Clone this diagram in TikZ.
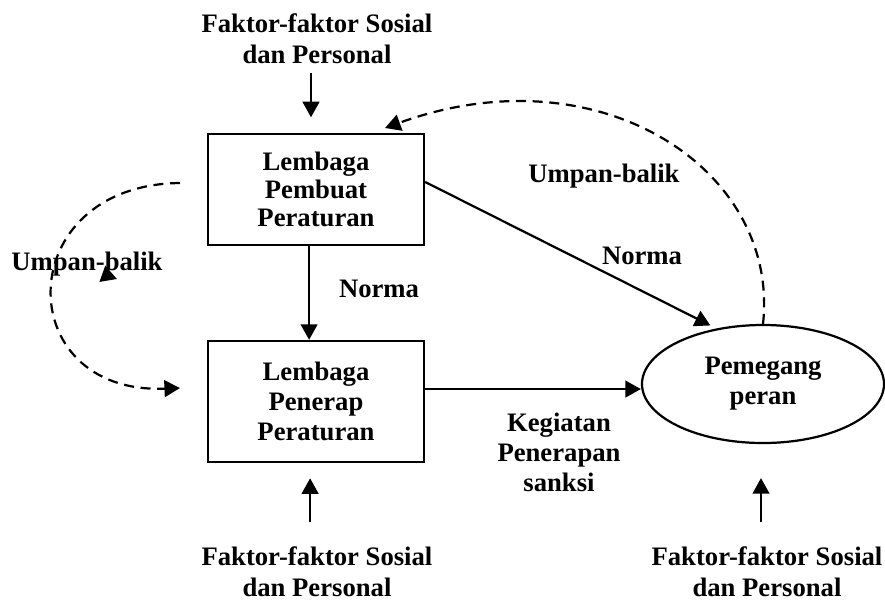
\documentclass[tikz,border=0pt]{standalone}
\usepackage{fontspec}
\setmainfont{Liberation Serif}
\usetikzlibrary{arrows.meta,shapes.geometric}

\begin{document}
\begin{tikzpicture}[x=0.45pt,y=-0.45pt,
    lbl/.style={font=\bfseries\fontsize{12}{14}\selectfont, align=center, inner sep=0pt},
    kotak/.style={draw, line width=1pt, minimum width=97.2pt, inner sep=0pt, align=center},
    elips/.style={draw, ellipse, line width=1pt, minimum width=108.9pt, minimum height=53.1pt, inner sep=0pt,
        align=center, font=\bfseries\fontsize{12}{13.5}\selectfont},
    panah/.style={line width=1pt, -{Triangle[length=7pt,width=7.5pt]}},
    balik/.style={panah, dash pattern=on 4.5pt off 3pt}]
                \useasboundingbox (0,0) rectangle (885,601);

                \node[kotak, minimum height=50pt, font=\bfseries\fontsize{12}{12.5}\selectfont] (pembuat) at (316,189.5) {Lembaga\\Pembuat\\Peraturan};
                \node[kotak, minimum height=54.5pt, font=\bfseries\fontsize{12}{13.5}\selectfont] (penerap) at (316,401.5) {Lembaga\\Penerap\\Peraturan};
                \node[elips] (pemegang) at (763,384) {Pemegang\\peran};

                \node[lbl] (faktorA) at (317,39) {Faktor-faktor Sosial\\dan Personal};
                \node[lbl] (faktorB) at (317,572) {Faktor-faktor Sosial\\dan Personal};
                \node[lbl] (faktorC) at (767,572) {Faktor-faktor Sosial\\dan Personal};

                \node[lbl] (norma1) at (379,289) {Norma};
                \node[lbl] (norma2) at (642,256) {Norma};
                \node[lbl, font=\bfseries\fontsize{12}{13.5}\selectfont] (kegiatan) at (559,452) {Kegiatan\\Penerapan\\sanksi};
                \node[lbl] (umpan1) at (604,176) {Umpan-balik};
                \node[lbl] (umpan2) at (87,264) {Umpan-balik};

                \coordinate (ujung1) at (385,128);
                \coordinate (pangkal2) at (180,183);
                \coordinate (ujung2) at (180,388);
                \coordinate (sisa1) at (103,274);
                \coordinate (sisa2) at (117,279);

                \draw[panah, shorten <=4pt, shorten >=7pt] ([xshift=-2.7pt]faktorA.south) -- ([xshift=-2.7pt]faktorA.south |- pembuat.north);
                \draw[panah] ([xshift=-3.1pt]pembuat.south) -- ([xshift=-3.1pt]penerap.north);
                \draw[panah, shorten >=3pt] ([yshift=3.4pt]pembuat.east) -- (pemegang.130);
                \draw[panah] ([yshift=5.6pt]penerap.east) -- ([yshift=5.6pt]penerap.east -| pemegang.west);
                \draw[panah, shorten <=10.8pt, shorten >=6.8pt] ([xshift=-3.1pt]faktorB.north) -- ([xshift=-3.1pt]faktorB.north |- penerap.south);
                \draw[panah, shorten <=10.8pt, shorten >=15.3pt] ([xshift=-2.7pt]faktorC.north) -- ([xshift=-2.7pt]faktorC.north |- pemegang.south);

                \draw[balik] (pemegang.north) .. controls (780,170) and (600,50) .. (ujung1);
                \draw[balik] (pangkal2) .. controls (10,185) and (10,395) .. (ujung2);
                \draw[panah] (sisa1) -- (sisa2);
            \end{tikzpicture}
\end{document}
